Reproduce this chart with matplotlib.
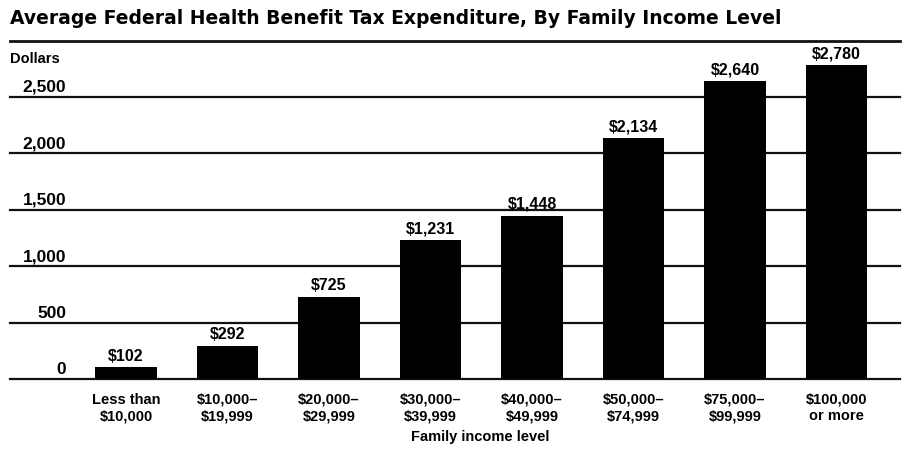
import matplotlib
matplotlib.use("Agg")
import matplotlib.pyplot as plt

categories = ["Less than\n$10,000", "$10,000–\n$19,999", "$20,000–\n$29,999", "$30,000–\n$39,999",
              "$40,000–\n$49,999", "$50,000–\n$74,999", "$75,000–\n$99,999", "$100,000\nor more"]
values = [102, 292, 725, 1231, 1448, 2134, 2640, 2780]
value_labels = ["$102", "$292", "$725", "$1,231", "$1,448", "$2,134", "$2,640", "$2,780"]
yticks = [0, 500, 1000, 1500, 2000, 2500]
ytick_labels = ["0", "500", "1,000", "1,500", "2,000", "2,500"]

plt.rcParams['font.family'] = ['Liberation Sans', 'DejaVu Sans']

W, H = 905, 450
fig = plt.figure(figsize=(W/100, H/100), dpi=100)
ax = fig.add_axes([10/W, 71/H, 890/W, 338.5/H])

x = list(range(len(values)))
ax.bar(x, values, width=0.61, color='black', zorder=3)
ax.set_xlim(-1.143, 7.626)
ax.set_ylim(0, 3000)

for y in yticks:
    ax.axhline(y, color='#111111', lw=1.6, zorder=1, clip_on=False)
ax.axhline(3000, color='#111111', lw=2, zorder=1, clip_on=False)

for xi, v, lab in zip(x, values, value_labels):
    ax.text(xi, v + 60, lab, ha='center', va='baseline', fontsize=11.5, color='black',
            fontweight='bold')

for y, lab in zip(yticks, ytick_labels):
    ax.text(57/W, y + 45, lab, transform=ax.get_yaxis_transform(), ha='right', va='baseline',
            fontsize=12.5, color='black', fontweight='bold')
fig.text(10/W, 1 - 63/H, "Dollars", ha='left', va='baseline', fontsize=10.5, fontweight='bold')

for xi, lab in zip(x, categories):
    ax.text(xi, -0.04, lab, transform=ax.get_xaxis_transform(), ha='center', va='top',
            fontsize=10.5, linespacing=1.25, fontweight='bold')
fig.text(480/W, 1 - 437/H, "Family income level", ha='center', va='center', fontsize=10.5,
         fontweight='bold')

fig.text(10/W, 1 - 18/H, "Average Federal Health Benefit Tax Expenditure, By Family Income Level",
         ha='left', va='center', fontsize=13.5, fontweight='heavy', family=['DejaVu Sans'])

ax.set_xticks([])
ax.set_yticks([])
for s in ax.spines.values():
    s.set_visible(False)
ax.patch.set_alpha(0)

fig.savefig("out.png", dpi=100)
